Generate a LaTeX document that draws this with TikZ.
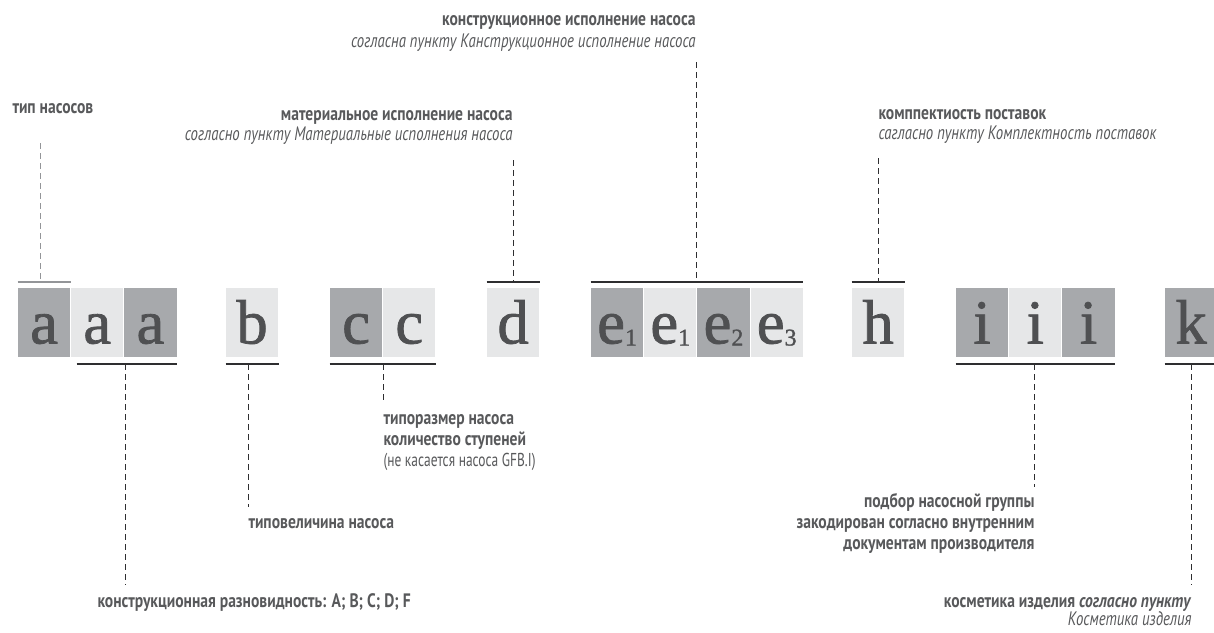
\documentclass[tikz,border=0pt]{standalone}
\usepackage{fontspec}
\setmainfont{Liberation Serif}
\newfontfamily\cellfont[FakeBold=1.2]{Liberation Serif}
\newfontfamily\cndfont[FakeStretch=0.8]{PT Sans}
\newfontfamily\cndnote[FakeStretch=0.76]{PT Sans}
\newfontfamily\cndthin[FakeStretch=0.72]{PT Sans}
\usetikzlibrary{positioning}

\definecolor{boxdark}{HTML}{A7A9AC}
\definecolor{boxlight}{HTML}{E6E7E8}
\definecolor{glyphgray}{HTML}{4F5052}
\definecolor{txtgray}{HTML}{58595B}
\definecolor{bargray}{HTML}{2E2E30}
\definecolor{barlight}{HTML}{939598}

\newcommand{\esub}[1]{\raisebox{-1.5pt}{\fontsize{18}{18}\selectfont #1}}

\tikzset{every picture/.style={line width=0.75pt},
  cell/.style={inner sep=0pt, minimum width=39.15pt, minimum height=51.75pt,
    text height=31.5pt, text depth=0pt, text=glyphgray, font=\cellfont\fontsize{47}{47}\selectfont},
  celldark/.style={cell, fill=boxdark},
  celllight/.style={cell, fill=boxlight},
  bar/.style={draw=bargray, line width=1pt},
  leader/.style={draw=bargray, line width=0.75pt, dash pattern=on 4.5pt off 3pt},
  caption/.style={inner sep=0pt, text=txtgray, font=\cndfont\fontsize{14.6}{16}\selectfont\bfseries},
  note/.style={inner sep=0pt, text=txtgray, font=\cndnote\fontsize{14.6}{16}\selectfont\itshape},
  plain/.style={inner sep=0pt, text=txtgray, font=\cndthin\fontsize{14}{16}\selectfont},
}

\begin{document}
\begin{tikzpicture}[x=0.75pt,y=0.75pt,yscale=-1,xscale=1]
  \useasboundingbox (0,0) rectangle (1214,632);

  %Shape: code cells
  \node[celldark] (a1) at (44.1,322.5) {a};
  \node[celllight, right=0pt of a1] (a2) {a};
  \node[celldark, right=0pt of a2] (a3) {a};
  \node[celllight] (b) at (252.1,322.5) {b};
  \node[celldark] (c1) at (356.1,322.5) {c};
  \node[celllight, right=0pt of c1] (c2) {c};
  \node[celllight] (d) at (513.1,322.5) {d};
  \node[celldark] (e1) at (617.1,322.5) {e\esub{1}};
  \node[celllight, right=0pt of e1] (e2) {e\esub{1}};
  \node[celldark, right=0pt of e2] (e3) {e\esub{2}};
  \node[celllight, right=0pt of e3] (e4) {e\esub{3}};
  \node[celllight] (h) at (878.1,322.5) {h};
  \node[celldark] (i1) at (982.1,322.5) {i};
  \node[celllight, right=0pt of i1] (i2) {i};
  \node[celldark, right=0pt of i2] (i3) {i};
  \node[celldark] (k) at (1191.1,322.5) {k};

  %Straight Lines: brackets above and below
  \coordinate (overY) at (0,282);
  \coordinate (underY) at (0,364);
  \draw[bar, draw=barlight] (a1.north west |- overY) -- (a1.north east |- overY);
  \draw[bar] (d.north west |- overY) -- (d.north east |- overY);
  \draw[bar] (e1.north west |- overY) -- (e4.north east |- overY);
  \draw[bar] (h.north west |- overY) -- (h.north east |- overY);
  \draw[bar] ([xshift=4.5pt]a2.south west |- underY) -- (a3.south east |- underY);
  \draw[bar] (b.south west |- underY) -- (b.south east |- underY);
  \draw[bar] (c1.south west |- underY) -- (c2.south east |- underY);
  \draw[bar] (i1.south west |- underY) -- (i3.south east |- underY);
  \draw[bar] (k.south west |- underY) -- (k.south east |- underY);

  %Dashed leaders
  \coordinate (tipEnd) at (40,143);
  \coordinate (matEnd) at (513,160);
  \coordinate (konEnd) at (696,62);
  \coordinate (kompEnd) at (878,158);
  \coordinate (razEnd) at (125,585);
  \coordinate (velEnd) at (248,507);
  \coordinate (sizeEnd) at (383,403);
  \coordinate (grpEnd) at (1034,487);
  \coordinate (kosEnd) at (1191,585);
  \draw[leader, draw=barlight] (tipEnd) -- (tipEnd |- overY);
  \draw[leader] (matEnd) -- (matEnd |- overY);
  \draw[leader] (konEnd) -- (konEnd |- overY);
  \draw[leader] (kompEnd) -- (kompEnd |- overY);
  \draw[leader] (razEnd |- underY) -- (razEnd);
  \draw[leader] (velEnd |- underY) -- (velEnd);
  \draw[leader] (sizeEnd |- underY) -- (sizeEnd);
  \draw[leader] (grpEnd |- underY) -- (grpEnd);
  \draw[leader] (kosEnd |- underY) -- (kosEnd);

  % Text Node
  \node[caption, anchor=base east] (konHead) at (696,25) {конструкционное исполнение насоса};
  \node[note, anchor=base east] (konNote) at (696,47) {согласна пункту Канструкционное исполнение насоса};
  % Text Node
  \node[caption, anchor=base west] (tipHead) at (12,113) {тип насосов};
  % Text Node
  \node[caption, anchor=base east] (matHead) at (513,120) {материальное исполнение насоса};
  \node[note, anchor=base east] (matNote) at (513,140) {согласно пункту Материальные исполнения насоса};
  % Text Node
  \node[caption, anchor=base west] (kompHead) at (878,119) {комппектиость поставок};
  \node[note, anchor=base west] (kompNote) at (878,139) {сагласно пункту Комплектность поставок};
  % Text Node
  \node[caption, anchor=base west] (sizeA) at (383,424) {типоразмер насоса};
  \node[caption, anchor=base west] (sizeB) at (383,445) {количество ступеней};
  \node[plain, anchor=base west] (sizeC) at (383,466) {(не касается насоса GFB.I)};
  % Text Node
  \node[caption, anchor=base west] (velHead) at (248,528) {типовеличина насоса};
  % Text Node
  \node[caption, anchor=base west] (razHead) at (97,607) {конструкционная разновидность: A; B; C; D; F};
  % Text Node
  \node[caption, anchor=base east] (grpA) at (1035,507) {подбор насосной группы};
  \node[caption, anchor=base east] (grpB) at (1035,528) {закодирован согласно внутренним};
  \node[caption, anchor=base east] (grpC) at (1035,549) {документам производителя};
  % Text Node
  \node[caption, anchor=base east] (kosHead) at (1192,607) {косметика изделия \textit{согласно пункту}};
  \node[note, anchor=base east] (kosNote) at (1192,625) {Косметика изделия};
\end{tikzpicture}
\end{document}
